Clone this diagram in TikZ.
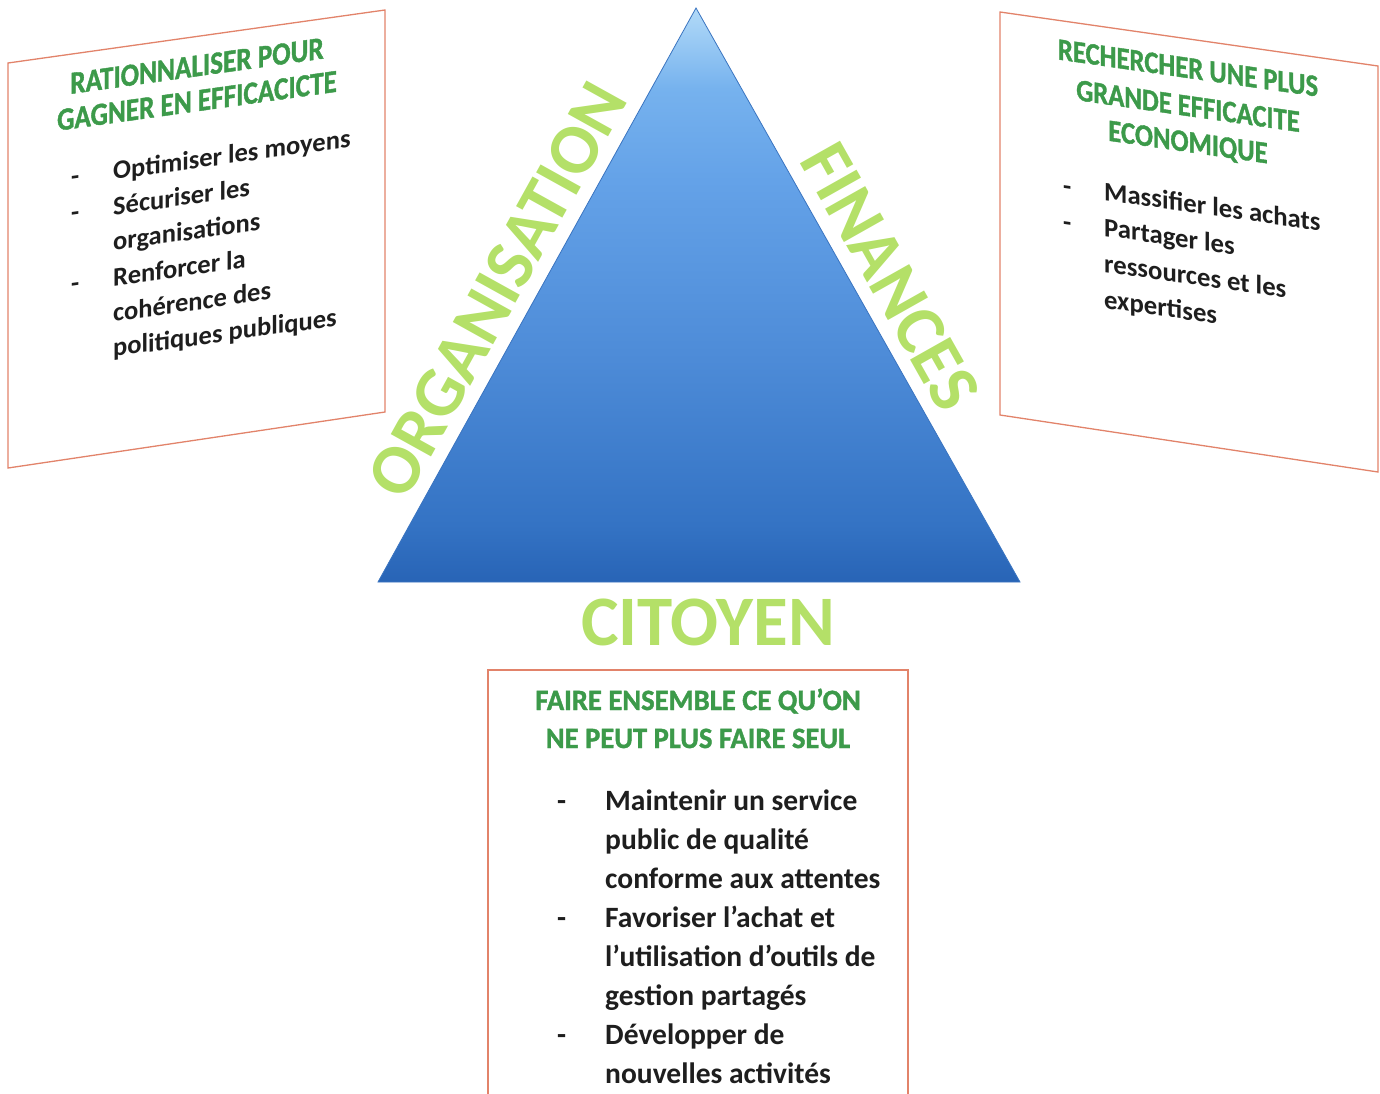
\documentclass[tikz,border=0pt]{standalone}
\usepackage{fontspec}
\setmainfont{Carlito}
\newfontfamily\titlefont{Carlito}[BoldFeatures={FakeBold=1.3}]
\definecolor{boxred}{HTML}{E2836A}
\definecolor{titlegreen}{HTML}{3C9A4A}
\definecolor{limeword}{HTML}{B4E068}
\definecolor{bodyblack}{HTML}{1E1E1E}
\definecolor{triEdge}{HTML}{3A74C0}
\pgfdeclareverticalshading{trishade}{100bp}{%
  color(0bp)=(rgb,255:red,40;green,100;blue,182);
  color(25bp)=(rgb,255:red,40;green,100;blue,182);
  color(30bp)=(rgb,255:red,52;green,115;blue,196);
  color(45bp)=(rgb,255:red,78;green,140;blue,216);
  color(60bp)=(rgb,255:red,100;green,162;blue,232);
  color(68bp)=(rgb,255:red,118;green,178;blue,238);
  color(75bp)=(rgb,255:red,178;green,218;blue,248);
  color(100bp)=(rgb,255:red,178;green,218;blue,248)}
\begin{document}
\begin{tikzpicture}[x=1pt,y=-1pt,
  boxframe/.style={draw=boxred, line width=1.3pt, fill=white},
  bigword/.style={text=limeword, font=\bfseries\fontsize{71}{80}\selectfont, inner sep=0pt},
  ltitle/.style={text=titlegreen, font=\titlefont\bfseries\fontsize{32}{36}\selectfont, inner sep=0pt, xscale=0.85},
  rtitle/.style={text=titlegreen, font=\titlefont\bfseries\fontsize{31}{36}\selectfont, inner sep=0pt, xscale=0.86},
  btitle/.style={text=titlegreen, font=\titlefont\bfseries\fontsize{29.5}{35}\selectfont, inner sep=0pt, xscale=0.97},
  lbody/.style={text=bodyblack, font=\bfseries\fontsize{26.5}{32}\selectfont, inner sep=0pt, anchor=base west},
  rbody/.style={text=bodyblack, font=\bfseries\fontsize{26.7}{32}\selectfont, inner sep=0pt, anchor=base west},
  bbody/.style={text=bodyblack, font=\bfseries\fontsize{29.5}{39}\selectfont, inner sep=0pt, anchor=base west}]
\useasboundingbox (0,0) rectangle (1380,1093);

% ---------- triangle ----------
\coordinate (apex) at (696,8);
\coordinate (bl) at (378,582);
\coordinate (br) at (1020,582);
\shade[shading=trishade] (apex) -- (br) -- (bl) -- cycle;
\draw[triEdge, line width=0.8pt, line join=miter] (apex) -- (br) -- (bl) -- cycle;

\node[bigword, rotate=61, anchor=base] (org) at (517.5,301) {ORGANISATION};
\node[bigword, rotate=-60.6, anchor=base] (fin) at (870,288) {FINANCES};
\node[bigword, anchor=base] (cit) at (708,645) {CITOYEN};

% ---------- left box ----------
\draw[boxframe] (8,63) -- (385,10) -- (385,412) -- (8,468) -- cycle;
\begin{scope}[shift={(113,180)}, yslant=0.14, every node/.append style={transform shape}]
  \node[ltitle, anchor=base] (lt1) at (84,-92) {RATIONNALISER POUR};
  \node[ltitle, anchor=base] (lt2) at (84,-57) {GAGNER EN EFFICACICTE};
  \node[lbody] (ld1) at (-42,0) {-};
  \node[lbody] (ld2) at (-42,35.4) {-};
  \node[lbody] (ld3) at (-42,106.2) {-};
  \node[lbody] (lb1) at (0,0) {Optimiser les moyens};
  \node[lbody] (lb2) at (0,35.4) {Sécuriser les};
  \node[lbody] (lb3) at (0,70.8) {organisations};
  \node[lbody] (lb4) at (0,106.2) {Renforcer la};
  \node[lbody] (lb5) at (0,141.6) {cohérence des};
  \node[lbody] (lb6) at (0,177) {politiques publiques};
\end{scope}

% ---------- right box ----------
\draw[boxframe] (1000,12) -- (1378,66) -- (1378,472) -- (1000,415) -- cycle;
\begin{scope}[shift={(1104,200)}, yslant=-0.143, every node/.append style={transform shape}]
  \node[rtitle, anchor=base] (rt1) at (84,-134) {RECHERCHER UNE PLUS};
  \node[rtitle, anchor=base] (rt2) at (84,-96) {GRANDE EFFICACITE};
  \node[rtitle, anchor=base] (rt3) at (84,-60) {ECONOMIQUE};
  \node[rbody] (rd1) at (-41,0) {-};
  \node[rbody] (rd2) at (-41,36) {-};
  \node[rbody] (rb1) at (0,0) {Massifier les achats};
  \node[rbody] (rb2) at (0,36) {Partager les};
  \node[rbody] (rb3) at (0,72) {ressources et les};
  \node[rbody] (rb4) at (0,108) {expertises};
\end{scope}

% ---------- bottom box ----------
\draw[boxframe] (488,1096) -- (488,670) -- (908,670) -- (908,1096);
\node[btitle, anchor=base] (bt1) at (698,710) {FAIRE ENSEMBLE CE QU’ON};
\node[btitle, anchor=base] (bt2) at (698,748) {NE PEUT PLUS FAIRE SEUL};
\node[bbody] (bd1) at (557,810) {-};
\node[bbody] (bd2) at (557,927) {-};
\node[bbody] (bd3) at (557,1044) {-};
\node[bbody] (bb1) at (605,810) {Maintenir un service};
\node[bbody] (bb2) at (605,849) {public de qualité};
\node[bbody] (bb3) at (605,888) {conforme aux attentes};
\node[bbody] (bb4) at (605,927) {Favoriser l’achat et};
\node[bbody] (bb5) at (605,966) {l’utilisation d’outils de};
\node[bbody] (bb6) at (605,1005) {gestion partagés};
\node[bbody] (bb7) at (605,1044) {Développer de};
\node[bbody] (bb8) at (605,1083) {nouvelles activités};
\end{tikzpicture}
\end{document}
